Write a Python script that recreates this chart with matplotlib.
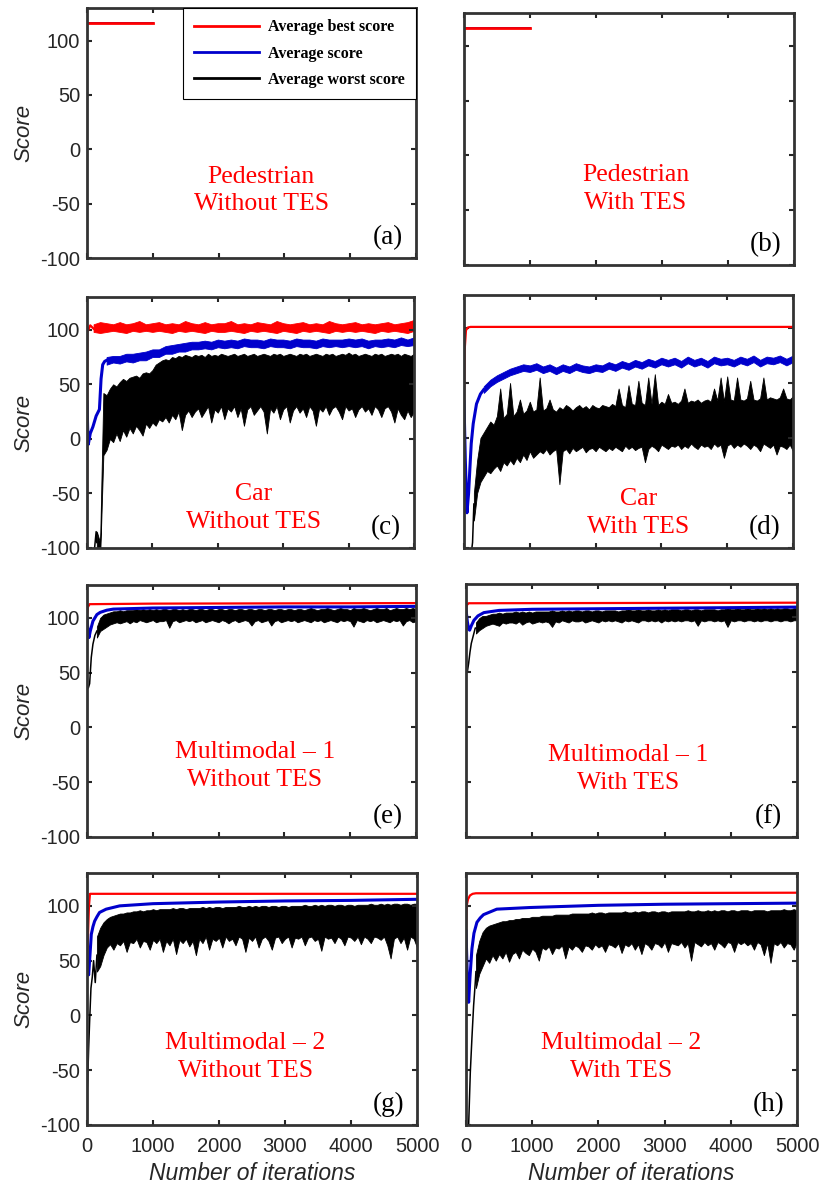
import matplotlib.pyplot as plt
import numpy as np

plt.rcParams['font.family'] = 'Liberation Sans'
plt.rcParams['axes.unicode_minus'] = False

# iteration grids of the noisy traces after the start-up transient;
# the noisy traces are kept as their upper / lower envelope on these grids
tail = np.arange(150, 5001, 50)       # 98 points
tail_c = np.arange(300, 5001, 100)    # 48 points
tail_r = np.arange(100, 5001, 100)    # 50 points

# ---- (a) / (b) pedestrian: everything converges at once
ped_x = [0, 1000]
ped_a = [116, 116]
ped_b = [116, 116]

# ---- (c) car without TES
c_red_hx = [0, 5, 50, 100]
c_red_hy = [-50, 98, 104, 101]
c_red_hi = [105, 107,
            106, 105, 107, 105, 106, 108, 105, 106,
            107, 105, 106, 105, 108, 106, 105, 107, 105, 106,
            106, 108, 105, 106, 105, 107, 106, 105, 108, 106,
            105, 106, 107, 105, 106, 105, 108, 106, 105, 106,
            107, 105, 106, 105, 106, 107, 105, 106, 107, 109]
c_red_lo = [98, 97,
            98, 99, 98, 97, 99, 98, 99, 98,
            99, 98, 97, 99, 98, 99, 98, 97, 99, 98,
            98, 99, 98, 97, 99, 98, 99, 98, 97, 99,
            98, 97, 99, 98, 99, 98, 97, 99, 98, 99,
            98, 99, 98, 97, 99, 98, 99, 98, 97, 99]
c_blue_hx = [0, 10, 20, 50, 90, 140, 190, 215, 240, 270, 300]
c_blue_hy = [34, 10, -5, 5, 11, 21, 27, 55, 68, 71, 72]
c_blue_hi = [75, 76, 76, 78, 78, 79, 80, 82,
             82, 85, 86, 87, 88, 89, 89, 90, 89, 91,
             90, 91, 90, 92, 91, 91, 90, 92, 91, 91,
             90, 92, 91, 91, 90, 92, 91, 91, 91, 92,
             91, 92, 90, 91, 91, 92, 91, 93, 91, 93]
c_blue_lo = [68, 70, 69, 71, 70, 72, 72, 75,
             75, 78, 78, 80, 80, 82, 82, 83, 82, 84,
             83, 84, 83, 85, 84, 84, 83, 85, 84, 84,
             83, 85, 84, 84, 83, 85, 84, 85, 84, 85,
             84, 85, 83, 85, 84, 85, 84, 86, 85, 86]
c_black_hx = [0, 5, 20, 60, 100, 140, 150]
c_black_hy = [-60, -105, -110, -110, -110, -85, -95]
c_black_hi = [-85, -95, 42,
              40, 46, 50, 48, 52, 55, 53, 56,
              57, 58, 56, 60, 61, 60, 63, 68, 70, 72,
              73, 72, 75, 74, 76, 75, 77, 76, 75, 77,
              76, 77, 75, 78, 76, 77, 76, 78, 77, 76,
              77, 78, 76, 77, 78, 76, 77, 78, 76, 77,
              78, 77, 76, 78, 77, 78, 76, 77, 78, 77,
              76, 78, 77, 78, 76, 77, 78, 77, 76, 78,
              77, 78, 76, 77, 78, 77, 79, 77, 78, 76,
              77, 78, 77, 76, 78, 77, 78, 76, 77, 78,
              77, 78, 76, 78, 77, 76, 78]
c_black_lo = [-110, -110, -15,
              -10, 0, -3, 5, -2, 8, 2, 10,
              5, 12, 8, 3, 14, 10, 15, 12, 18, 16,
              20, 15, 22, 18, 25, 8, 22, 26, 20, 25,
              28, 20, 25, 30, 15, 27, 24, 30, 18, 28,
              25, 30, 20, 28, 12, 27, 30, 22, 26, 30,
              25, 5, 28, 24, 30, 18, 27, 30, 15, 26,
              30, 24, 28, 20, 30, 26, 12, 28, 25, 30,
              22, 28, 30, 25, 18, 30, 26, 28, 20, 27,
              30, 25, 28, 22, 30, 27, 20, 28, 30, 25,
              15, 28, 22, 18, 26, 20, 25]

# ---- (d) car with TES
d_red_x = [0, 10, 30, 60, 100, 5000]
d_red_y = [33, 80, 98, 100.5, 101, 101]
d_blue_hx = [0, 20, 45, 70, 90, 110, 140, 190, 250, 300]
d_blue_hy = [33, -20, -68, -50, -27, -5, 13, 31, 40, 44]
d_blue_hi = [47, 53, 57, 60, 63, 65, 67, 66,
             68, 65, 67, 64, 67, 65, 68, 66, 65, 67,
             66, 69, 67, 70, 68, 71, 69, 72, 70, 73,
             71, 73, 70, 74, 71, 73, 70, 74, 72, 73,
             71, 74, 72, 75, 71, 74, 73, 75, 72, 75]
d_blue_lo = [41, 47, 51, 54, 57, 59, 61, 60,
             62, 59, 61, 58, 61, 59, 62, 60, 59, 61,
             60, 63, 61, 64, 62, 65, 63, 66, 64, 67,
             65, 67, 64, 68, 65, 67, 64, 68, 66, 67,
             65, 68, 66, 69, 65, 68, 67, 69, 66, 69]
d_black_hx = [0, 100, 130, 150]
d_black_hy = [-110, -110, -95, -60]
d_black_hi = [-50, -20, 0,
              5, 10, 15, 12, 20, 45, 18, 22,
              50, 20, 24, 35, 22, 25, 33, 24, 26, 55,
              25, 27, 35, 26, 24, 28, 26, 30, 28, 25,
              28, 30, 27, 29, 26, 30, 28, 27, 30, 29,
              28, 31, 29, 45, 30, 28, 48, 31, 30, 52,
              32, 30, 55, 31, 58, 30, 33, 31, 40, 32,
              33, 31, 34, 45, 32, 34, 33, 35, 32, 34,
              35, 33, 45, 34, 55, 33, 56, 35, 34, 55,
              35, 34, 36, 52, 35, 34, 36, 55, 35, 37,
              36, 35, 37, 45, 36, 35, 38]
d_black_lo = [-75, -50, -40,
              -35, -30, -32, -28, -25, -30, -22, -25,
              -20, -24, -18, -22, -15, -20, -12, -18, -15, -12,
              -14, -10, -15, -12, -10, -42, -12, -10, -14, -9,
              -12, -10, -8, -13, -10, -9, -12, -8, -10, -12,
              -9, -11, -8, -10, -12, -7, -10, -8, -11, -9,
              -8, -22, -10, -7, -9, -12, -6, -8, -10, -7,
              -8, -6, -10, -7, -9, -5, -8, -10, -6, -8,
              -7, -10, -5, -8, -6, -18, -7, -5, -9, -6,
              -8, -5, -7, -10, -6, -8, -12, -5, -7, -9,
              -6, -15, -7, -8, -10, -6, -12]

# ---- (e) multimodal-1 without TES
e_red_x = [0, 15, 40, 1000, 5000]
e_red_y = [102, 110, 112.5, 113, 113.5]
e_blue_x = [0, 15, 30, 50, 90, 150, 200, 300, 400, 700, 1000, 2000, 3000, 4000, 5000]
e_blue_y = [100, 88, 82, 88, 97, 103, 105, 107, 108, 108.5, 109, 109.5, 110, 110, 110.5]
e_black_hx = [0, 20, 40, 65, 90, 120, 150]
e_black_hy = [38, 36, 40, 64, 76, 84, 88]
e_black_hi = [92, 100, 103,
              104, 105, 106, 106, 107, 106, 107, 107,
              107, 108, 107, 108, 107, 108, 107, 108, 107, 108,
              108, 107, 108, 108, 107, 108, 107, 108, 108, 107,
              108, 108, 107, 108, 108, 107, 108, 108, 107, 108,
              108, 107, 108, 108, 107, 108, 108, 107, 108, 108,
              107, 108, 108, 107, 108, 108, 107, 108, 108, 107,
              108, 108, 107, 108, 109, 108, 107, 108, 108, 109,
              108, 107, 108, 109, 108, 108, 107, 109, 108, 108,
              109, 108, 107, 108, 109, 108, 108, 109, 107, 108,
              109, 108, 108, 109, 108, 109, 108]
e_black_lo = [82, 88, 90,
              92, 94, 95, 96, 95, 96, 97, 95,
              97, 96, 98, 97, 96, 97, 98, 96, 97, 97,
              98, 91, 97, 98, 96, 97, 98, 97, 98, 96,
              97, 98, 96, 97, 98, 97, 96, 98, 97, 95,
              97, 98, 96, 97, 98, 97, 93, 97, 98, 96,
              97, 98, 93, 97, 98, 96, 97, 98, 97, 98,
              96, 97, 98, 97, 96, 98, 97, 98, 96, 97,
              98, 97, 96, 98, 97, 98, 97, 92, 98, 97,
              96, 98, 97, 98, 96, 97, 98, 97, 96, 98,
              97, 98, 93, 97, 98, 96, 97]

# ---- (f) multimodal-1 with TES
f_red_x = [0, 15, 40, 5000]
f_red_y = [107, 111, 112.5, 113]
f_blue_x = [0, 20, 40, 55, 80, 120, 180, 270, 500, 1000, 2000, 3000, 4000, 5000]
f_blue_y = [107, 96, 89, 88, 92, 97, 101, 104, 106, 107, 107.5, 108, 108.5, 109]
f_black_hx = [0, 20, 40, 60, 80, 110, 140, 150]
f_black_hy = [53, 50, 58, 68, 76, 83, 90, 90]
f_black_hi = [95, 99, 101,
              101, 102, 103, 103, 104, 103, 104, 104,
              104, 105, 104, 105, 104, 105, 104, 105, 105, 105,
              105, 105, 106, 105, 105, 106, 105, 106, 105, 106,
              106, 105, 106, 106, 105, 106, 106, 105, 106, 106,
              106, 106, 105, 106, 106, 107, 106, 106, 107, 106,
              106, 107, 106, 106, 107, 106, 107, 106, 107, 107,
              107, 106, 107, 107, 106, 107, 107, 106, 107, 107,
              107, 107, 106, 107, 107, 108, 107, 107, 108, 107,
              107, 108, 107, 107, 108, 107, 108, 107, 108, 107,
              108, 107, 108, 108, 107, 108, 108]
f_black_lo = [85, 88, 90,
              92, 93, 94, 93, 92, 95, 94, 95,
              95, 94, 96, 93, 95, 96, 94, 95, 96, 95,
              96, 95, 91, 96, 95, 97, 96, 95, 97, 96,
              96, 97, 95, 96, 97, 96, 95, 97, 96, 97,
              96, 97, 96, 95, 97, 96, 97, 96, 95, 97,
              97, 96, 97, 96, 97, 95, 97, 96, 97, 96,
              97, 96, 97, 97, 96, 97, 92, 97, 96, 97,
              97, 96, 97, 96, 97, 91, 97, 96, 97, 97,
              96, 97, 97, 96, 97, 96, 97, 97, 96, 97,
              97, 96, 97, 97, 96, 97, 97]

# ---- (g) multimodal-2 without TES
g_red_x = [0, 30, 45, 5000]
g_red_y = [46, 100, 111, 111]
g_blue_x = [0, 25, 45, 65, 90, 115, 150, 190, 290, 495, 1000, 2000, 3000, 4000, 5000]
g_blue_y = [46, 37, 55, 74, 81, 86, 90, 94, 97, 100, 102, 103.5, 104.5, 105, 106]
g_black_hx = [0, 10, 25, 40, 60, 80, 100, 125, 150]
g_black_hy = [-70, -60, -30, -5, 25, 35, 50, 30, 55]
g_black_hi = [72, 80, 85,
              88, 90, 91, 92, 93, 93, 94, 94,
              95, 95, 96, 95, 96, 96, 97, 96, 97, 97,
              97, 97, 98, 97, 98, 98, 97, 98, 98, 98,
              98, 99, 98, 99, 98, 99, 99, 98, 99, 99,
              99, 99, 100, 99, 99, 100, 99, 100, 99, 100,
              100, 99, 100, 100, 99, 100, 100, 99, 100, 100,
              100, 100, 101, 100, 100, 101, 100, 101, 100, 101,
              101, 100, 101, 101, 100, 101, 101, 100, 101, 101,
              101, 101, 102, 101, 101, 102, 101, 102, 101, 102,
              102, 101, 102, 102, 101, 102, 102]
g_black_lo = [40, 45, 55,
              62, 65, 60, 66, 64, 68, 58, 67,
              66, 70, 62, 68, 67, 60, 69, 66, 70, 58,
              68, 64, 70, 56, 69, 66, 70, 63, 68, 55,
              70, 66, 72, 60, 70, 68, 71, 62, 72, 68,
              70, 64, 72, 70, 58, 71, 68, 72, 62, 70,
              72, 68, 60, 71, 72, 66, 70, 72, 62, 71,
              70, 72, 64, 71, 72, 68, 70, 59, 72, 70,
              71, 66, 72, 70, 64, 72, 71, 68, 72, 65,
              72, 70, 66, 72, 71, 69, 72, 64, 52, 70,
              72, 66, 71, 60, 72, 70, 62]

# ---- (h) multimodal-2 with TES
h_red_x = [0, 10, 30, 60, 100, 150, 5000]
h_red_y = [77, 100, 106, 109.5, 111, 111.5, 112]
h_blue_x = [0, 20, 40, 60, 90, 120, 165, 215, 265, 465, 965, 2000, 3000, 4000, 5000]
h_blue_y = [77, 35, 12, 35, 61, 75, 85, 89, 92, 97, 98.5, 100.5, 101.5, 102, 102.5]
h_black_hx = [0, 20, 40, 65, 90, 115, 140, 150]
h_black_hy = [-110, -110, -100, -52, -20, 9, 30, 40]
h_black_hi = [55, 68, 76,
              80, 82, 83, 84, 85, 86, 86, 87,
              87, 88, 88, 89, 89, 89, 90, 90, 90, 91,
              91, 91, 91, 92, 92, 92, 92, 92, 93, 93,
              93, 93, 93, 93, 94, 93, 94, 94, 93, 94,
              94, 94, 94, 94, 95, 94, 94, 95, 94, 95,
              95, 94, 95, 95, 94, 95, 95, 94, 95, 95,
              95, 95, 95, 96, 95, 95, 96, 95, 95, 96,
              95, 96, 95, 96, 96, 95, 96, 96, 95, 96,
              96, 96, 95, 96, 96, 96, 96, 95, 96, 96,
              96, 96, 97, 96, 96, 97, 96]
h_black_lo = [25, 38, 45,
              52, 48, 55, 50, 56, 52, 58, 49,
              56, 58, 52, 60, 57, 55, 61, 58, 50, 62,
              60, 63, 56, 62, 61, 64, 52, 63, 60, 64,
              62, 58, 64, 63, 60, 65, 62, 64, 58, 65,
              64, 62, 66, 57, 65, 63, 66, 60, 65, 56,
              66, 64, 60, 66, 65, 62, 67, 58, 66, 65,
              64, 67, 62, 66, 50, 67, 65, 63, 67, 64,
              66, 60, 67, 65, 62, 67, 66, 58, 67, 65,
              67, 64, 66, 60, 67, 65, 55, 66, 48, 66,
              64, 67, 62, 66, 65, 60, 67]

titles = ['Pedestrian\nWithout TES', 'Pedestrian\nWith TES',
          'Car\nWithout TES', 'Car\nWith TES',
          'Multimodal \u2013 1\nWithout TES', 'Multimodal \u2013 1\nWith TES',
          'Multimodal \u2013 2\nWithout TES', 'Multimodal \u2013 2\nWith TES']
tags = ['(a)', '(b)', '(c)', '(d)', '(e)', '(f)', '(g)', '(h)']

# per panel: red, blue, black -> (head_x, head_y, band_x, band_lo, band_hi)
series = [
    [(ped_x, ped_a, None, None, None)] * 3,
    [(ped_x, ped_b, None, None, None)] * 3,
    [(c_red_hx, c_red_hy, tail_r, c_red_lo, c_red_hi),
     (c_blue_hx, c_blue_hy, tail_c, c_blue_lo, c_blue_hi),
     (c_black_hx, c_black_hy, tail, c_black_lo, c_black_hi)],
    [(d_red_x, d_red_y, None, None, None),
     (d_blue_hx, d_blue_hy, tail_c, d_blue_lo, d_blue_hi),
     (d_black_hx, d_black_hy, tail, d_black_lo, d_black_hi)],
    [(e_red_x, e_red_y, None, None, None),
     (e_blue_x, e_blue_y, None, None, None),
     (e_black_hx, e_black_hy, tail, e_black_lo, e_black_hi)],
    [(f_red_x, f_red_y, None, None, None),
     (f_blue_x, f_blue_y, None, None, None),
     (f_black_hx, f_black_hy, tail, f_black_lo, f_black_hi)],
    [(g_red_x, g_red_y, None, None, None),
     (g_blue_x, g_blue_y, None, None, None),
     (g_black_hx, g_black_hy, tail, g_black_lo, g_black_hi)],
    [(h_red_x, h_red_y, None, None, None),
     (h_blue_x, h_blue_y, None, None, None),
     (h_black_hx, h_black_hy, tail, h_black_lo, h_black_hi)],
]

colors = ['#ff0000', '#0000cc', 'black']
widths = [1.6, 2.2, 1.1]
names = ['Average best score', 'Average score', 'Average worst score']

# axes boxes in pixels: left, right, top, bottom
W, H = 821, 1187
boxes = [(87, 416, 8, 258), (464, 794, 13, 265),
         (87, 414, 297, 548), (464, 793, 295, 548),
         (87, 416, 585, 837), (466, 797, 584, 837),
         (87, 417, 873, 1125), (466, 797, 873, 1125)]
title_pos = [(0.53, 0.27), (0.52, 0.30), (0.51, 0.16), (0.53, 0.14),
             (0.51, 0.28), (0.49, 0.27), (0.48, 0.27), (0.47, 0.27)]

gray = '#262626'
fig = plt.figure(figsize=(W / 100, H / 100), dpi=100)

for i in range(8):
    l, r, t, b = boxes[i]
    ax = fig.add_axes([l / W, 1 - b / H, (r - l) / W, (b - t) / H])
    order = [2, 1, 0] if i < 2 else [0, 1, 2]
    for k in order:
        hx, hy, bx, lo, hi = series[i][k]
        lw = widths[k] if i >= 2 else (2.0 if k == 0 else 1.2)
        ax.plot(hx, hy, color=colors[k], lw=lw, label=names[k])
        if bx is not None:
            ax.fill_between(bx, lo, hi, color=colors[k], lw=0.6)
    ax.set_xlim(0, 5000)
    ax.set_ylim(-100, 130)
    ax.set_xticks([0, 1000, 2000, 3000, 4000, 5000])
    ax.set_yticks([-100, -50, 0, 50, 100])
    ax.tick_params(direction='in', top=True, right=True, length=3.5, width=1.5,
                   color=gray, labelcolor=gray, labelsize=14.5)
    ax.tick_params(axis='y', pad=5)
    ax.tick_params(axis='x', pad=9)
    for s in ax.spines.values():
        s.set_linewidth(2.0)
        s.set_color('#333333')
    if i % 2 == 0:
        ax.set_ylabel('Score', fontsize=16, style='italic', color=gray, labelpad=4)
    else:
        ax.tick_params(labelleft=False)
    if i < 6:
        ax.tick_params(labelbottom=False)
    else:
        ax.set_xlabel('Number of iterations', fontsize=16.5, style='italic',
                      color=gray, labelpad=4)
    tx, ty = title_pos[i]
    ax.text(tx, ty, titles[i], transform=ax.transAxes, ha='center', va='center',
            color='#ff0000', fontsize=18.5, family='Liberation Serif',
            linespacing=1.35)
    ax.text(0.915, 0.08, tags[i], transform=ax.transAxes, ha='center',
            va='center', color='black', fontsize=19.5, family='Liberation Serif')
    if i == 0:
        h, lab = ax.get_legend_handles_labels()
        leg = ax.legend(h[::-1], lab[::-1], loc='upper right',
                        bbox_to_anchor=(1, 1), borderaxespad=0, fancybox=False,
                        edgecolor='black', framealpha=1,
                        prop={'family': 'Liberation Serif', 'weight': 'bold',
                              'size': 11.5},
                        handlelength=4.1, handletextpad=0.55, labelspacing=0.65,
                        borderpad=0.7)
        leg.get_frame().set_linewidth(0.8)
        for ln in leg.get_lines():
            ln.set_linewidth(2.0)

fig.savefig('out.png', dpi=100)
